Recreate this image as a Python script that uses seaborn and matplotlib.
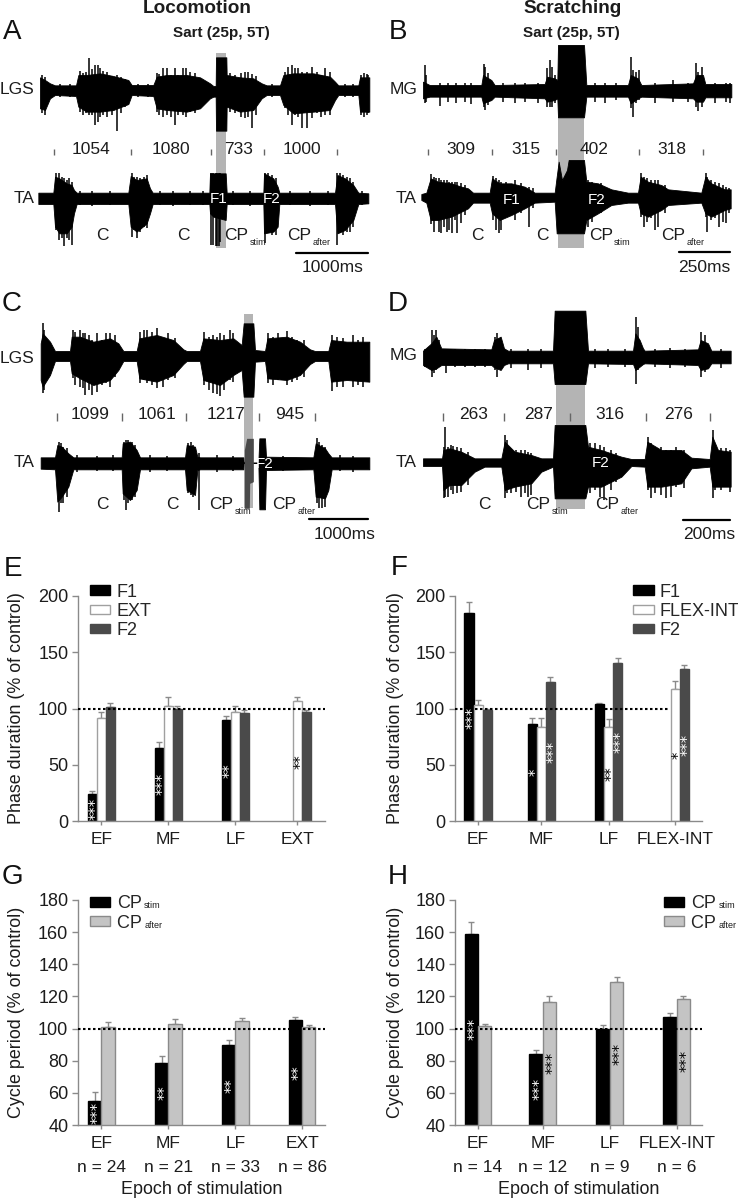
import matplotlib
matplotlib.use('Agg')
import matplotlib.pyplot as plt
from matplotlib.transforms import ScaledTranslation
import numpy as np
import pandas as pd
import seaborn as sns

W, H = 738, 1200

# ---- bar data
groups_e = ['EF', 'MF', 'LF', 'EXT']
f1_e = [23.7, 64.6, 90, np.nan]
f1_e_err = [3, 5.4, 3, 0]
ext_e = [91.3, 102, 97, 107]
ext_e_err = [5.7, 8, 5.5, 3]
f2_e = [101, 99.6, 96.3, 97]
f2_e_err = [4, 2.4, 2.2, 1.7]

groups_f = ['EF', 'MF', 'LF', 'FLEX-INT']
f1_f = [185, 86, 104.3, np.nan]
f1_f_err = [10, 6, 0.9, 0]
flex_f = [103.5, 84, 84, 117]
flex_f_err = [4.5, 8, 7, 7.5]
f2_f = [98.7, 123.5, 140.7, 135]
f2_f_err = [1.3, 4.5, 4.3, 3.5]

groups_g = ['EF', 'MF', 'LF', 'EXT']
n_g = [24, 21, 33, 86]
stim_g = [55, 78.4, 89.6, 105.4]
stim_g_err = [5.5, 4.6, 3.4, 2]
after_g = [101, 102.9, 104.5, 101]
after_g_err = [2.8, 3.3, 2.1, 1.4]

groups_h = ['EF', 'MF', 'LF', 'FLEX-INT']
n_h = [14, 12, 9, 6]
stim_h = [159, 84.2, 100, 107]
stim_h_err = [7.3, 2.5, 2, 3]
after_h = [101.4, 116.8, 129, 118.6]
after_h_err = [1.4, 3.6, 3, 1.8]

# significance stars: group index, series index, height, count, colour
stars_e = [(0, 0, 11, 3, 'w'), (1, 0, 32.6, 3, 'w'), (2, 0, 44.7, 2, 'w'), (3, 1, 53, 2, 'k')]
stars_f = [(0, 0, 92, 3, 'w'), (1, 0, 43, 1, 'w'), (1, 2, 61.6, 3, 'w'), (2, 1, 42.4, 2, 'k'),
           (2, 2, 70.5, 3, 'w'), (3, 1, 58, 1, 'k'), (3, 2, 67.6, 3, 'w')]
stars_g = [(0, 0, 47.5, 3, 'w'), (1, 0, 60, 2, 'w'), (2, 0, 64.7, 2, 'w'), (3, 0, 72.8, 2, 'w')]
stars_h = [(0, 0, 99.8, 3, 'w'), (1, 0, 62.4, 3, 'w'), (1, 1, 78.6, 3, 'k'),
           (2, 1, 84.4, 3, 'k'), (3, 1, 79.6, 3, 'k')]

# ---- EMG traces: x, top, bottom (3x crop pixels of each panel)
# *_core is the solid part of the trace, *_sp the single spikes sticking out of it
a_lgs_core = [(120,232,325),(135,240,330),(150,250,295),(165,256,285),(228,256,288),(235,225,320),(260,225,335),(300,220,335),(340,228,330),(385,240,312),(395,255,285),(460,255,288),(470,230,325),(500,225,330),(560,225,335),(600,232,325),(630,250,295),(640,258,290),(647,258,290),(648,172,392),(679,172,392),(680,225,320),(720,232,335),(760,235,330),(785,250,295),(800,256,285),(840,256,285),(850,225,315),(880,220,340),(940,220,335),(990,230,330),(1005,245,300),(1015,256,285),(1075,256,285),(1080,232,335),(1108,232,335)]
a_lgs_sp = [(125,225,340),(135,232,345),(180,252,292),(210,252,290),(240,212,335),(250,218,345),(258,215,340),(268,175,345),(276,208,345),(285,195,375),(293,195,365),(301,205,350),(310,212,345),(322,215,350),(335,228,345),(350,225,392),(362,232,340),(375,236,320),(415,252,292),(445,252,290),
            (470,218,335),(478,222,345),(490,205,350),(500,205,345),(512,225,350),(525,205,375),(535,225,345),(548,205,345),(558,205,350),(570,215,335),(585,220,340),(690,220,335),(705,225,340),(722,218,350),(735,215,355),(745,215,350),(755,222,385),(768,228,345),(815,252,292),
            (855,215,325),(865,200,345),(875,195,375),(885,205,345),(895,205,350),(905,215,385),(920,215,385),(935,200,355),(950,215,340),(962,225,350),(975,205,345),(990,215,345),(1035,252,292),(1060,252,290),(1084,225,345),(1092,220,350),(1100,222,345),(1105,225,340)]
a_ta_core = [(115,578,612),(160,578,612),(165,530,680),(178,535,700),(200,550,700),(215,555,680),(222,570,640),(230,578,612),(385,578,612),(392,528,680),(410,540,695),(440,535,670),(450,565,640),(458,578,612),(628,578,612),(630,520,640),(640,520,650),(677,520,660),(680,578,612),(790,578,612),(792,520,700),(820,535,695),(833,560,680),(838,578,612),(1005,578,612),(1012,525,700),(1035,535,690),(1060,555,660),(1075,578,612),(1105,580,610)]
a_ta_sp = [(634,520,735),(638,520,735),(648,520,738),(652,520,738),(656,520,738),(660,520,725),(168,520,690),(178,520,720),(186,530,715),(193,535,738),(200,540,715),(208,535,720),(216,545,735),(395,520,710),(403,530,690),(410,530,715),(420,535,695),(432,530,680),(442,525,685),(795,520,730),(805,520,690),(815,525,705),(828,535,705),(1012,520,735),(1020,520,700),(1030,525,705),(1040,530,695),(1050,535,695),(1058,545,680),
           (240,572,616),(275,574,618),(330,572,615),(480,572,616),(520,572,618),(570,574,616),(610,572,615),(700,574,616),(750,572,618),(870,572,616),(930,574,618),(985,572,616),(1085,572,616)]
b_mg_core = [(165,245,295),(185,255,290),(340,255,290),(345,225,310),(370,240,300),(380,255,290),(530,252,295),(537,230,305),(560,235,300),(568,240,295),(570,135,352),(648,135,352),(655,255,290),(780,255,290),(788,225,310),(810,235,295),(820,255,290),(975,250,295),(985,225,305),(1005,225,305),(1012,252,292),(1090,252,292)]
b_mg_sp = [(170,195,310),(175,225,305),(215,250,318),(240,248,305),(265,250,310),(290,250,305),(310,248,312),(347,192,322),(352,200,330),(360,220,315),(405,250,305),(440,250,308),(470,248,305),(510,248,310),(538,205,320),(545,180,322),(552,200,320),(560,225,310),(680,248,305),(710,250,310),(745,248,300),(790,172,325),(794,210,352),(803,215,310),(812,210,300),(860,250,308),(915,240,305),(960,248,305),(983,190,320),(990,215,332),(1002,200,322),(1040,248,308),(1075,248,305),(1085,250,310)]
b_ta_core = [(160,582,600),(175,578,608),(188,535,660),(210,545,660),(250,550,650),(280,560,635),(300,565,625),(315,578,608),(365,578,608),(372,535,640),(395,550,660),(430,550,645),(470,560,625),(500,578,608),(560,578,605),(566,530,700),(572,485,700),(582,540,700),(597,510,700),(602,480,700),(648,480,700),(655,545,660),(690,550,640),(730,568,615),(780,578,608),(810,578,608),(818,530,640),(840,545,650),(880,555,630),(900,568,615),(1000,578,608),(1012,530,640),(1030,550,650),(1070,568,630),(1088,568,625)]
b_ta_sp = [(190,522,672),(197,530,695),(205,535,660),(212,535,695),(220,540,700),(228,540,680),(236,540,695),(243,545,690),(252,545,700),(262,545,660),(268,545,700),(278,550,670),(290,555,645),(375,528,660),(384,535,690),(392,540,700),(400,545,690),(415,545,650),(440,540,660),(460,548,640),(484,560,680),(495,565,625),(660,540,680),(672,545,665),(700,548,640),(820,520,650),(828,530,680),(838,535,665),(850,540,655),(862,540,690),(870,540,680),(890,555,640),(1014,520,650),(1018,530,695),(1028,540,660),(1040,545,655),(1052,550,680),(1064,555,665),(1075,560,670),(1082,565,640)]
c_lgs_core = [(122,160,270),(128,130,290),(150,155,255),(165,183,213),(210,183,213),(215,140,250),(240,140,265),(280,155,285),(330,145,270),(355,160,240),(370,183,213),(410,183,213),(418,145,265),(470,135,275),(520,150,255),(550,178,222),(560,183,213),(600,183,213),(610,145,270),(660,150,285),(700,145,255),(725,165,240),(731,100,320),(760,100,320),(765,180,215),(795,183,213),(802,145,265),(860,140,270),(900,155,255),(930,178,222),(945,183,213),(985,183,213),(993,150,275),(1040,155,270),(1108,155,275)]
c_lgs_sp = [(128,100,310),(133,120,300),(218,120,265),(226,125,285),(240,120,290),(250,130,295),(256,128,315),(266,135,300),(275,150,315),(290,130,305),(305,150,285),(318,130,280),(330,130,290),(345,135,260),(420,125,280),(432,120,270),(442,120,280),(455,125,285),(470,115,295),(490,145,290),(505,130,270),(525,145,265),(612,125,285),(628,140,300),(640,135,310),(650,140,312),(660,130,318),(672,135,300),(690,120,270),(700,130,275),(805,130,280),(820,140,285),(835,130,270),(860,122,285),(875,140,275),(890,150,270),(912,150,260),(996,135,302),(1010,140,290),(1030,145,290),(1060,135,290),(1075,150,285),(1090,140,290)]
c_ta_core = [(122,502,536),(165,502,538),(172,465,635),(185,470,620),(205,490,590),(220,502,538),(365,502,538),(368,460,610),(390,455,630),(410,480,600),(420,502,538),(555,502,538),(560,465,600),(585,470,615),(592,500,540),(600,502,538),(730,502,538),(731,518,518),(775,518,518),(778,445,658),(795,445,658),(798,500,540),(940,502,538),(947,460,620),(975,475,625),(985,490,600),(995,502,538),(1108,502,538)]
c_ta_sp = [(176,455,665),(182,460,640),(190,470,640),(200,475,620),(372,455,630),(378,450,660),(385,450,640),(395,455,630),(405,465,620),(565,460,610),(572,455,615),(580,465,620),(596,490,660),(950,445,640),(958,455,655),(966,465,655),(975,470,650),(230,496,545),(290,498,544),(340,496,542),(450,496,545),(500,498,544),(650,496,545),(700,498,542),(850,498,544),(1020,496,542),(1060,498,545)]
d_mg_core = [(165,182,225),(190,160,240),(205,140,235),(220,175,225),(370,178,225),(378,150,232),(398,140,240),(408,175,225),(420,182,220),(555,182,220),(560,62,282),(652,62,282),(660,182,220),(795,182,222),(802,130,240),(815,150,230),(825,175,222),(830,182,220),(990,178,225),(998,150,240),(1020,160,235),(1030,182,220),(1088,182,220)]
d_mg_sp = [(170,178,230),(193,120,262),(198,135,250),(205,120,240),(212,150,230),(235,178,250),(260,178,232),(290,178,232),(320,178,232),(350,178,232),(380,140,240),(388,128,262),(430,178,235),(480,178,240),(520,178,235),(680,178,235),(720,178,232),(770,178,232),(803,82,282),(810,110,240),(860,178,232),(905,175,235),(950,178,232),(1000,125,260),(1010,135,245),(1060,178,235)]
d_ta_core = [(165,505,528),(222,505,528),(226,480,600),(245,475,585),(280,485,585),(320,505,545),(350,505,530),(400,505,530),(410,455,600),(440,485,590),(490,495,580),(520,505,545),(555,505,530),(560,405,625),(652,405,625),(660,470,590),(700,480,590),(760,500,560),(790,507,528),(830,507,530),(838,455,590),(880,480,590),(940,480,580),(970,503,535),(1025,507,530),(1033,440,590),(1050,480,590),(1088,485,590)]
d_ta_sp = [(229,470,625),(232,410,620),(240,470,620),(248,465,600),(256,468,612),(266,470,610),(278,475,605),(300,485,585),(412,435,625),(418,450,610),(430,480,610),(445,480,605),(460,480,620),(470,480,610),(480,485,620),(490,490,615),(665,460,610),(680,460,600),(695,465,620),(708,470,630),(728,480,600),(745,490,575),(840,440,600),(848,460,625),(862,470,610),(880,470,615),(895,480,625),(908,480,620),(925,470,590),(948,480,595),(1035,420,625),(1042,470,600),(1060,475,600),(1075,475,590),(1085,480,605)]

# cycle durations written between the traces
ticks_a = [162, 392, 632, 792, 1010]
ticks_b = [180, 372, 565, 812, 1004]
ticks_c = [170, 367, 557, 777, 945]
ticks_d = [226, 407, 605, 834, 1026]

sns.set_style('ticks')
plt.rcParams['font.family'] = ['Liberation Sans', 'DejaVu Sans']

fig = plt.figure(figsize=(W / 100, H / 100), dpi=100)
DARK = '#1c1c1c'
GREY = '#b4b4b4'
AXIS = '#8a8a8a'


def crop_axes(x0, y0, w, h):
    # overlay whose data units are the 3x crop pixels
    ax = fig.add_axes([x0 / W, 1 - (y0 + h) / H, w / W, h / H])
    ax.set_xlim(0, w * 3)
    ax.set_ylim(h * 3, 0)
    ax.axis('off')
    return ax


def trace(ax, core, spikes):
    p = np.array(core, dtype=float)
    ax.fill_between(p[:, 0], p[:, 1], p[:, 2], color='black', lw=0.6, zorder=3)
    s = np.array(spikes, dtype=float)
    ax.vlines(s[:, 0], s[:, 1], s[:, 2], color='black', lw=1.1, zorder=3)


def cp(ax, x, y, sub, sub_dx=76, sub_dy=20):
    ax.text(x, y, 'CP', ha='left', va='center', fontsize=12.5, color=DARK, zorder=6)
    ax.text(x + sub_dx, y + sub_dy, sub, ha='left', va='center', fontsize=6.5, color=DARK, zorder=6)


def label(ax, x, y, s, color=DARK, ha='center', size=12.5, weight='normal'):
    ax.text(x, y, s, ha=ha, va='center', color=color, fontsize=size, fontweight=weight, zorder=6)


def letter(x, y, s):
    fig.text(x / W, 1 - y / H, s, fontsize=20, ha='left', va='center', color='#111111')


# ---- panel A
ax = crop_axes(0, 0, 370, 290)
ax.axvspan(647, 679, 1 - 745 / 870, 1 - 160 / 870, color=GREY, lw=0, zorder=1)
trace(ax, a_lgs_core, a_lgs_sp)
trace(ax, a_ta_core, a_ta_sp)
ax.vlines(ticks_a, 447, 466, color='#666666', lw=1)
for x, s in zip([272, 513, 715, 905], ['1054', '1080', '733', '1000']):
    label(ax, x, 450, s)
label(ax, 103, 270, 'LGS', ha='right')
label(ax, 103, 596, 'TA', ha='right')
label(ax, 655, 597, 'F1', color='white', size=11)
label(ax, 815, 597, 'F2', color='white', size=11)
label(ax, 307, 708, 'C')
label(ax, 550, 708, 'C')
cp(ax, 672, 708, 'stim')
cp(ax, 862, 708, 'after')
ax.plot([887, 1105], [758, 758], color='black', lw=1.6)
label(ax, 997, 802, '1000ms')
label(ax, 592, 25, 'Locomotion', size=13.7, weight='bold')
label(ax, 663, 100, 'Sart (25p, 5T)', size=11, weight='bold')

# ---- panel B
ax = crop_axes(368, 0, 370, 290)
ax.axvspan(570, 648, 1 - 745 / 870, 1 - 135 / 870, color=GREY, lw=0, zorder=1)
trace(ax, b_mg_core, b_mg_sp)
trace(ax, b_ta_core, b_ta_sp)
ax.vlines(ticks_b, 447, 466, color='#666666', lw=1)
for x, s in zip([280, 474, 677, 912], ['309', '315', '402', '318']):
    label(ax, x, 450, s)
label(ax, 148, 270, 'MG', ha='right')
label(ax, 147, 596, 'TA', ha='right')
label(ax, 430, 600, 'F1', color='white', size=11)
label(ax, 685, 600, 'F2', color='white', size=11)
label(ax, 327, 708, 'C')
label(ax, 522, 708, 'C')
cp(ax, 662, 708, 'stim')
cp(ax, 880, 708, 'after')
ax.plot([933, 1085], [755, 755], color='black', lw=1.6)
label(ax, 1010, 802, '250ms')
label(ax, 615, 25, 'Scratching', size=13.7, weight='bold')
label(ax, 610, 100, 'Sart (25p, 5T)', size=11, weight='bold')

# ---- panel C
ax = crop_axes(0, 290, 370, 270)
ax.axvspan(732, 759, 1 - 655 / 810, 1 - 73 / 810, color=GREY, lw=0, zorder=1)
trace(ax, c_lgs_core, c_lgs_sp)
trace(ax, c_ta_core, c_ta_sp)
ax.fill_between([733, 740, 748, 749, 760], [480, 445, 445, 445, 445], [655, 655, 655, 580, 575],
                color='#4a4a4a', lw=0, zorder=4)
ax.vlines(ticks_c, 370, 392, color='#666666', lw=1)
for x, s in zip([270, 470, 678, 868], ['1099', '1061', '1217', '945']):
    label(ax, x, 373, s)
label(ax, 103, 205, 'LGS', ha='right')
label(ax, 103, 518, 'TA', ha='right')
label(ax, 793, 522, 'F2', color='white', size=11)
label(ax, 307, 643, 'C')
label(ax, 518, 643, 'C')
cp(ax, 627, 643, 'stim')
cp(ax, 817, 643, 'after')
ax.plot([927, 1105], [688, 688], color='black', lw=1.6)
label(ax, 1033, 733, '1000ms')

# ---- panel D
ax = crop_axes(368, 290, 370, 270)
ax.axvspan(563, 652, 1 - 658 / 810, 1 - 62 / 810, color=GREY, lw=0, zorder=1)
trace(ax, d_mg_core, d_mg_sp)
trace(ax, d_ta_core, d_ta_sp)
ax.vlines(ticks_d, 370, 392, color='#666666', lw=1)
for x, s in zip([317, 512, 725, 933], ['263', '287', '316', '276']):
    label(ax, x, 373, s)
label(ax, 148, 195, 'MG', ha='right')
label(ax, 147, 518, 'TA', ha='right')
label(ax, 697, 520, 'F2', color='white', size=11)
label(ax, 350, 643, 'C')
cp(ax, 475, 643, 'stim')
cp(ax, 682, 643, 'after')
ax.plot([945, 1085], [690, 690], color='black', lw=1.6)
label(ax, 1025, 733, '200ms')


def bar_panel(rect, groups, pos, span, ylim, yticks, names, values, errs, colors, edges, bar_w,
              stars, ylabel, legend_at, line_to=None, tick_shift=None, ns=None):
    x0, y0, w, h = rect
    ax = fig.add_axes([x0 / W, 1 - (y0 + h) / H, w / W, h / H])
    df = pd.DataFrame({
        'pos': np.tile(pos, len(names)),
        'series': np.repeat(names, len(groups)),
        'value': np.concatenate(values),
    })
    sns.barplot(data=df, x='pos', y='value', hue='series', hue_order=names, palette=colors,
                native_scale=True, width=bar_w * len(names) / np.diff(pos).min(), ax=ax,
                errorbar=None, saturation=1, zorder=2)
    for k, cont in enumerate(list(ax.containers)):
        bars = [b for b in cont if np.isfinite(b.get_height())]
        idx = np.where(np.isfinite(values[k]))[0]
        for b in bars:
            b.set_edgecolor(edges[k])
            b.set_linewidth(1)
        xs = [b.get_x() + b.get_width() / 2 for b in bars]
        ys = np.array(values[k])[idx]
        es = np.array(errs[k])[idx]
        ax.errorbar(xs, ys, yerr=[np.zeros(len(es)), es], fmt='none', ecolor=AXIS,
                    elinewidth=1, capsize=2.4, capthick=1, zorder=1)
    # stars sit on the bars of their group and series
    for g, s, y, n, c in stars:
        x = pos[g] + (s - (len(names) - 1) / 2) * bar_w
        ax.annotate('*' * n, (x, y), xytext=(2.6, 0), textcoords='offset points', rotation=90,
                    ha='center', va='center', color=c, fontsize=10.5, family='DejaVu Sans', zorder=5)
    ax.plot([span[0], line_to if line_to else span[1]], [100, 100], color='black', ls=(0, (1.2, 1.2)), lw=1.5, zorder=4)
    ax.set_xlim(*span)
    ax.set_ylim(*ylim)
    ax.set_yticks(yticks)
    ax.set_xticks(pos)
    if ns:
        ax.set_xticklabels([g + '\n\nn = %d' % n for g, n in zip(groups, ns)], linespacing=0.76)
    else:
        ax.set_xticklabels(groups)
    if tick_shift:
        for lab, dx in zip(ax.get_xticklabels(), tick_shift):
            lab.set_transform(lab.get_transform() + ScaledTranslation(dx / 100, 0, fig.dpi_scale_trans))
    sns.despine(ax=ax)
    for sp in ['left', 'bottom']:
        ax.spines[sp].set_color(AXIS)
        ax.spines[sp].set_linewidth(1)
    ax.tick_params(axis='both', labelsize=13, color=AXIS, width=1, length=4, pad=3, labelcolor=DARK)
    ax.tick_params(axis='x', length=3, pad=5, labelsize=12.5)
    ax.set_ylabel(ylabel, fontsize=12.9, color=DARK)
    ax.set_xlabel('')
    ax.patch.set_alpha(0)
    sns.move_legend(ax, 'upper left', bbox_to_anchor=legend_at, title=None, frameon=False, fontsize=13,
                    handlelength=1.15, handleheight=0.45, labelspacing=0.12, handletextpad=0.35,
                    borderaxespad=0, borderpad=0)
    for h, e in zip(ax.get_legend().legend_handles, edges):
        h.set_edgecolor(e)
        h.set_linewidth(1)
    return ax


E_POS = [0, 1, 2, 2.928]
F_POS = [0, 0.948, 1.95, 2.95]
G_POS = [0, 1, 2, 3]
H_POS = [0, 0.968, 1.97, 2.97]

ax = bar_panel((78, 596, 247, 225), groups_e, E_POS, (-0.349, 3.342), (0, 200), range(0, 201, 50),
               ['F1', 'EXT', 'F2'], [f1_e, ext_e, f2_e], [f1_e_err, ext_e_err, f2_e_err],
               ['black', 'white', '#4a4a4a'], ['black', '#a0a0a0', '#4a4a4a'], 0.1347, stars_e,
               'Phase duration (% of control)', (0.047, 1.055))
ax.yaxis.set_label_coords((25 - 78) / 247, 0.5)

ax = bar_panel((455, 596, 247, 225), groups_f, F_POS, (-0.344, 3.347), (0, 200), range(0, 201, 50),
               ['F1', 'FLEX-INT', 'F2'], [f1_f, flex_f, f2_f], [f1_f_err, flex_f_err, f2_f_err],
               ['black', 'white', '#4a4a4a'], ['black', '#a0a0a0', '#4a4a4a'], 0.1347, stars_f,
               'Phase duration (% of control)', (0.72, 1.055), line_to=2.87, tick_shift=[1.3, 2, 1.7, 9])
ax.yaxis.set_label_coords((404 - 455) / 247, 0.5)

ax = bar_panel((78, 900, 247, 225), groups_g, G_POS, (-0.349, 3.342), (40, 180), range(40, 181, 20),
               ['CP', 'CP '], [stim_g, after_g], [stim_g_err, after_g_err],
               ['black', '#c4c4c4'], ['black', '#8a8a8a'], 0.2, stars_g,
               'Cycle period (% of control)', (0.047, 1.02), ns=n_g)
ax.yaxis.set_label_coords((25 - 78) / 247, 0.5)
ax.set_xlabel('Epoch of stimulation', fontsize=12.9, color=DARK, labelpad=4)
ax.text(0.268, 0.975, 'stim', transform=ax.transAxes, fontsize=6.5, color=DARK, va='center')
ax.text(0.268, 0.885, 'after', transform=ax.transAxes, fontsize=6.5, color=DARK, va='center')

ax = bar_panel((455, 900, 247, 225), groups_h, H_POS, (-0.344, 3.347), (40, 180), range(40, 181, 20),
               ['CP', 'CP '], [stim_h, after_h], [stim_h_err, after_h_err],
               ['black', '#c4c4c4'], ['black', '#8a8a8a'], 0.2, stars_h,
               'Cycle period (% of control)', (0.845, 1.02), tick_shift=[1.3, 0.7, 0.3, 0], ns=n_h)
ax.yaxis.set_label_coords((404 - 455) / 247, 0.5)
ax.set_xlabel('Epoch of stimulation', fontsize=12.9, color=DARK, labelpad=4)
ax.text(1.066, 0.975, 'stim', transform=ax.transAxes, fontsize=6.5, color=DARK, va='center')
ax.text(1.066, 0.885, 'after', transform=ax.transAxes, fontsize=6.5, color=DARK, va='center')

for x, y, s in [(3, 32, 'A'), (389, 32, 'B'), (2, 304, 'C'), (388, 304, 'D'),
                (4, 569, 'E'), (391, 568, 'F'), (2, 877, 'G'), (388, 877, 'H')]:
    letter(x, y, s)

fig.savefig('out.png', dpi=100)
